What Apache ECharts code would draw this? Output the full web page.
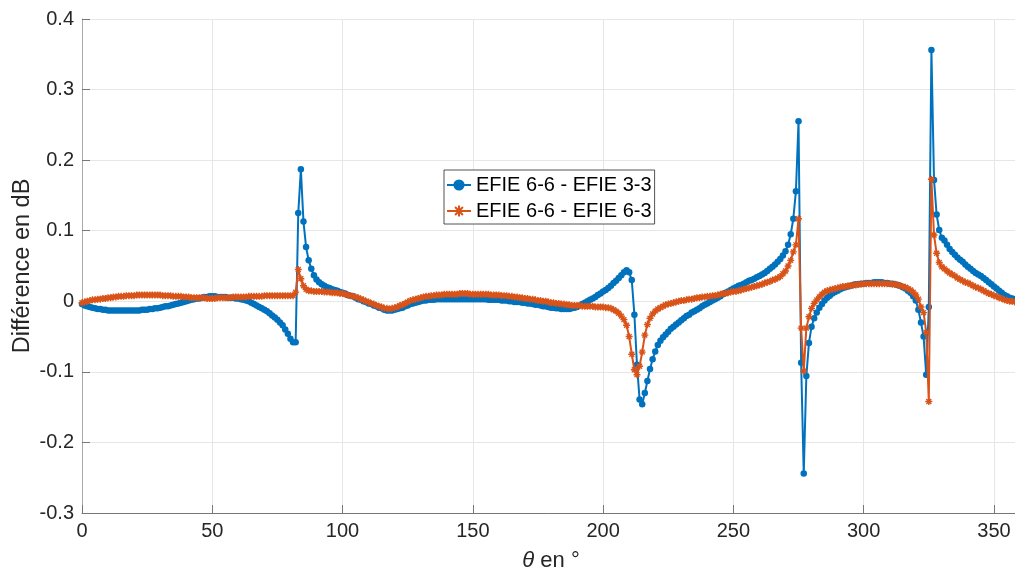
<!DOCTYPE html>
<html>
<head>
<meta charset="utf-8">
<script src="https://cdn.jsdelivr.net/npm/echarts@6/dist/echarts.min.js"></script>
<style>
html,body{margin:0;padding:0;background:#fff;}
#chart{width:1015px;height:576px;}
</style>
</head>
<body>
<div id="chart"></div>
<script>
// theta in degrees: samples 0,1,2,...,358 (index = angle)
const thetaStart = 0;
const thetaStep = 1;

const seriesNames = ['EFIE 6-6 - EFIE 3-3', 'EFIE 6-6 - EFIE 6-3'];

const xTicks = [0, 50, 100, 150, 200, 250, 300, 350];
const yTicks = [-0.3, -0.2, -0.1, 0, 0.1, 0.2, 0.3, 0.4];

// EFIE 6-6 - EFIE 3-3
const diff33 = [
-0.004,-0.006,-0.007,-0.008,-0.009,-0.010,-0.011,-0.011,-0.012,-0.012,
-0.013,-0.013,-0.013,-0.013,-0.013,-0.013,-0.013,-0.013,-0.013,-0.013,
-0.013,-0.013,-0.013,-0.012,-0.012,-0.012,-0.011,-0.011,-0.010,-0.010,
-0.009,-0.008,-0.007,-0.007,-0.006,-0.005,-0.004,-0.003,-0.002,-0.001,
0.000,0.001,0.002,0.003,0.004,0.004,0.005,0.006,0.006,0.007,
0.007,0.007,0.006,0.006,0.006,0.006,0.005,0.005,0.005,0.004,
0.004,0.003,0.002,0.001,0.000,-0.002,-0.004,-0.006,-0.008,-0.010,
-0.012,-0.014,-0.017,-0.020,-0.023,-0.026,-0.030,-0.034,-0.040,-0.046,
-0.053,-0.058,-0.058,0.125,0.187,0.113,0.077,0.058,0.046,0.037,
0.031,0.027,0.024,0.022,0.020,0.019,0.017,0.016,0.015,0.013,
0.012,0.011,0.009,0.008,0.007,0.005,0.003,0.002,0.000,-0.001,
-0.003,-0.004,-0.006,-0.007,-0.009,-0.010,-0.012,-0.013,-0.013,-0.013,
-0.012,-0.011,-0.010,-0.009,-0.007,-0.006,-0.004,-0.003,-0.002,-0.001,
0.000,0.001,0.001,0.002,0.002,0.002,0.003,0.003,0.003,0.003,
0.003,0.003,0.003,0.003,0.003,0.003,0.003,0.003,0.003,0.003,
0.003,0.003,0.003,0.003,0.003,0.003,0.002,0.002,0.002,0.002,
0.002,0.001,0.001,0.001,0.000,0.000,-0.001,-0.001,-0.001,-0.002,
-0.002,-0.003,-0.003,-0.004,-0.005,-0.005,-0.006,-0.007,-0.007,-0.008,
-0.009,-0.009,-0.010,-0.010,-0.011,-0.011,-0.011,-0.011,-0.010,-0.009,
-0.008,-0.006,-0.004,-0.002,0.000,0.002,0.004,0.006,0.009,0.011,
0.014,0.016,0.019,0.022,0.026,0.029,0.033,0.037,0.041,0.044,
0.041,0.030,-0.019,-0.090,-0.139,-0.146,-0.130,-0.113,-0.096,-0.082,
-0.071,-0.062,-0.056,-0.051,-0.047,-0.043,-0.039,-0.036,-0.033,-0.030,
-0.027,-0.024,-0.021,-0.019,-0.016,-0.014,-0.012,-0.010,-0.007,-0.005,
-0.003,-0.001,0.001,0.003,0.005,0.007,0.010,0.012,0.014,0.016,
0.018,0.020,0.022,0.023,0.025,0.027,0.029,0.030,0.032,0.034,
0.036,0.038,0.040,0.043,0.046,0.049,0.052,0.056,0.060,0.065,
0.071,0.080,0.095,0.117,0.156,0.255,-0.087,-0.244,-0.106,-0.059,
-0.036,-0.024,-0.016,-0.009,-0.004,0.001,0.005,0.008,0.011,0.013,
0.015,0.017,0.019,0.020,0.021,0.022,0.023,0.024,0.024,0.025,
0.025,0.026,0.026,0.026,0.027,0.027,0.027,0.027,0.026,0.026,
0.025,0.025,0.024,0.023,0.022,0.020,0.018,0.015,0.012,0.007,
0.001,-0.012,-0.030,-0.050,-0.104,-0.008,0.356,0.172,0.123,0.101,
0.090,0.086,0.080,0.074,0.070,0.066,0.062,0.059,0.056,0.052,
0.049,0.046,0.043,0.040,0.038,0.036,0.033,0.030,0.027,0.024,
0.021,0.018,0.015,0.012,0.009,0.007,0.005,0.004,0.003
];

// EFIE 6-6 - EFIE 6-3
const diff63 = [
-0.002,-0.001,0.000,0.001,0.002,0.002,0.003,0.003,0.004,0.004,
0.005,0.005,0.006,0.006,0.007,0.007,0.007,0.008,0.008,0.008,
0.008,0.009,0.009,0.009,0.009,0.009,0.009,0.009,0.009,0.009,
0.009,0.008,0.008,0.008,0.008,0.007,0.007,0.007,0.007,0.006,
0.006,0.006,0.005,0.005,0.005,0.005,0.005,0.005,0.004,0.004,
0.004,0.004,0.005,0.005,0.005,0.005,0.005,0.005,0.006,0.006,
0.006,0.006,0.006,0.006,0.007,0.007,0.007,0.007,0.007,0.007,
0.008,0.008,0.008,0.008,0.008,0.008,0.008,0.008,0.008,0.008,
0.008,0.008,0.013,0.045,0.032,0.022,0.017,0.015,0.015,0.014,
0.014,0.014,0.014,0.013,0.013,0.013,0.012,0.012,0.012,0.011,
0.011,0.010,0.009,0.008,0.007,0.006,0.005,0.003,0.002,0.000,
-0.001,-0.003,-0.004,-0.006,-0.007,-0.008,-0.010,-0.010,-0.011,-0.010,
-0.009,-0.008,-0.006,-0.005,-0.003,-0.001,0.001,0.002,0.003,0.004,
0.005,0.006,0.007,0.007,0.008,0.008,0.009,0.009,0.009,0.010,
0.010,0.010,0.010,0.010,0.010,0.011,0.011,0.011,0.011,0.010,
0.010,0.010,0.010,0.010,0.010,0.010,0.010,0.009,0.009,0.009,
0.009,0.008,0.008,0.008,0.007,0.007,0.006,0.006,0.005,0.005,
0.004,0.004,0.003,0.003,0.002,0.001,0.001,0.000,0.000,-0.001,
-0.002,-0.002,-0.003,-0.003,-0.004,-0.004,-0.005,-0.005,-0.006,-0.006,
-0.006,-0.006,-0.007,-0.007,-0.007,-0.007,-0.007,-0.008,-0.008,-0.008,
-0.008,-0.009,-0.009,-0.010,-0.012,-0.014,-0.017,-0.021,-0.026,-0.034,
-0.050,-0.075,-0.097,-0.104,-0.092,-0.072,-0.048,-0.033,-0.024,-0.018,
-0.014,-0.011,-0.009,-0.007,-0.005,-0.004,-0.003,-0.002,-0.001,0.000,
0.001,0.001,0.002,0.003,0.003,0.004,0.005,0.005,0.006,0.006,
0.007,0.007,0.008,0.008,0.009,0.010,0.011,0.011,0.012,0.013,
0.014,0.014,0.015,0.016,0.017,0.018,0.019,0.020,0.021,0.022,
0.023,0.024,0.026,0.027,0.028,0.030,0.031,0.033,0.035,0.039,
0.043,0.050,0.058,0.070,0.080,0.117,-0.038,-0.099,-0.038,-0.022,
-0.010,-0.003,0.002,0.006,0.010,0.013,0.015,0.016,0.017,0.018,
0.019,0.020,0.021,0.021,0.022,0.022,0.023,0.023,0.024,0.024,
0.025,0.025,0.025,0.025,0.025,0.025,0.025,0.025,0.025,0.025,
0.025,0.024,0.024,0.023,0.022,0.021,0.020,0.018,0.016,0.013,
0.009,0.003,-0.008,-0.016,-0.044,-0.142,0.173,0.094,0.068,0.055,
0.049,0.046,0.043,0.040,0.038,0.036,0.033,0.031,0.029,0.027,
0.026,0.024,0.022,0.020,0.019,0.017,0.015,0.013,0.011,0.010,
0.008,0.007,0.005,0.004,0.002,0.001,0.000,0.000,-0.001
];

const BLUE = '#0072BD';
const ORANGE = '#D95319';
const FONT = '"Liberation Sans", Arial, Helvetica, sans-serif';
const TXT = '#262626';

function pairs(arr){ return arr.map((v,i)=>[thetaStart + i*thetaStep, v]); }

const asterisk = 'path://M5,0L5,10M0,5L10,5M1.5,1.5L8.5,8.5M8.5,1.5L1.5,8.5';

const chart = echarts.init(document.getElementById('chart'), null, {renderer:'canvas'});
chart.setOption({
  animation:false,
  backgroundColor:'#ffffff',
  textStyle:{fontFamily:FONT},
  grid:{left:82, top:19, right:-5, bottom:63, containLabel:false, outerBoundsMode:'none'},
  legend:{
    orient:'vertical',
    left:444, top:170,
    padding:[5,3,3,2],
    itemGap:6,
    itemWidth:24, itemHeight:14,
    backgroundColor:'#ffffff',
    borderColor:'#262626', borderWidth:0.8, borderRadius:0,
    textStyle:{fontSize:20, color:'#000', fontFamily:FONT},
    data:seriesNames
  },
  xAxis:{
    type:'value', min:0, max:360, interval:50,
    name:'{t|θ} en °', nameLocation:'middle', nameGap:37, nameMoveOverlap:false,
    nameTextStyle:{fontSize:22, color:TXT, fontFamily:FONT,
      rich:{t:{fontStyle:'italic', fontSize:22, color:TXT, fontFamily:FONT}}},
    axisLine:{show:true, onZero:false, lineStyle:{color:'#777', width:1}},
    axisTick:{show:true, inside:true, length:8, lineStyle:{color:'#777'}},
    axisLabel:{fontSize:20, color:TXT, margin:8, showMaxLabel:false, fontFamily:FONT},
    splitLine:{show:true, lineStyle:{color:'#e6e6e6', width:1}}
  },
  yAxis:{
    type:'value', min:-0.3, max:0.4, interval:0.1,
    name:'Différence en dB', nameLocation:'middle', nameGap:47, nameMoveOverlap:false,
    nameTextStyle:{fontSize:23.5, color:TXT, fontFamily:FONT},
    axisLine:{show:true, onZero:false, lineStyle:{color:'#aaa', width:1}},
    axisTick:{show:true, inside:true, length:8, lineStyle:{color:'#777'}},
    axisLabel:{fontSize:20, color:TXT, margin:8, fontFamily:FONT,
      formatter:function(v){ return String(Math.round(v*10)/10); }},
    splitLine:{show:true, lineStyle:{color:'#e6e6e6', width:1}}
  },
  series:[
    {
      name:seriesNames[0], type:'line', data:pairs(diff33),
      showSymbol:true, showAllSymbol:true, symbol:'circle', symbolSize:6.5,
      lineStyle:{color:BLUE, width:2},
      itemStyle:{color:BLUE},
      clip:true, z:2
    },
    {
      name:seriesNames[1], type:'line', data:pairs(diff63),
      showSymbol:true, showAllSymbol:true, symbol:asterisk, symbolSize:7,
      lineStyle:{color:ORANGE, width:2},
      itemStyle:{color:ORANGE, borderColor:ORANGE, borderWidth:1.4},
      clip:true, z:3
    }
  ]
});
</script>
</body>
</html>
